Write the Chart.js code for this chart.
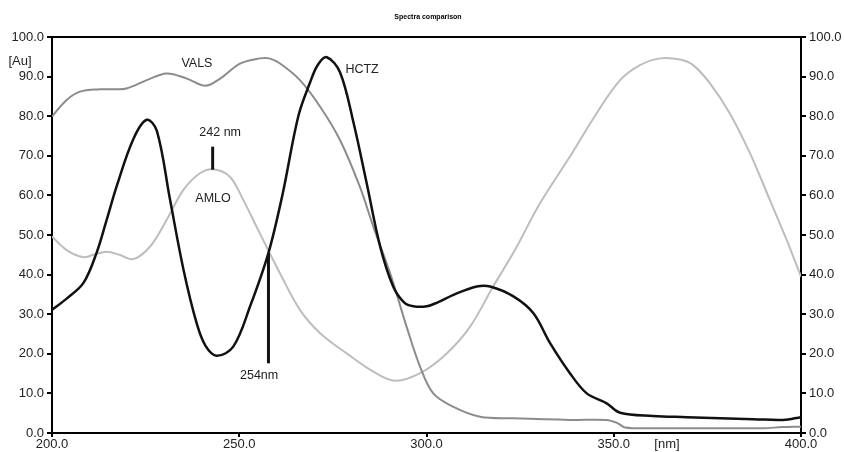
<!DOCTYPE html>
<html>
<head>
<meta charset="utf-8">
<script src="https://cdn.jsdelivr.net/npm/chart.js@4/dist/chart.umd.min.js"></script>
<style>
  body { margin: 0; background: #fff; }
  canvas { display: block; }
</style>
</head>
<body>
<canvas id="spectra" width="844" height="452"></canvas>
<script>
// Wavelength [nm] and absorbance [Au]
const hctzNm = [200, 204, 208.4, 211.9, 214.5, 217.3, 221.7, 225.3, 228, 231.5, 235.1, 238.6, 241, 244, 248.4, 252.9, 257.8, 261.5, 265.8, 268.9, 271, 273.4, 276.9, 280.5, 284, 287.6, 291.1, 294, 296.5, 300.1, 303, 307.2, 313.4, 317, 323.2, 328.5, 333, 338.3, 342.8, 348.1, 351.7, 360.5, 369.5, 378.4, 387.3, 395.2, 400];
const hctzAu = [31.1, 34, 37.9, 45.5, 53.5, 62.4, 74.2, 79.1, 76.3, 59, 41.3, 27.8, 22, 19.5, 21.8, 32, 45.5, 60, 80.1, 88.5, 93, 94.9, 91.1, 78.4, 63.2, 47.2, 37, 33, 32, 32, 33, 34.9, 37, 37, 34.5, 30.3, 22.7, 15.1, 10, 7.5, 5.1, 4.3, 4.0, 3.7, 3.5, 3.3, 4];

const valsNm = [200, 203.9, 207.5, 212.8, 216, 219.9, 225.3, 230.6, 236, 240.9, 244.9, 250.2, 255.5, 258, 260.9, 266.2, 271.6, 276.9, 282.2, 285.8, 290.3, 294.7, 298.3, 301.8, 307.2, 314.3, 323.2, 338.3, 348.1, 351, 353, 360.5, 378.4, 390, 395, 400];
const valsAu = [79.9, 84.1, 86.2, 86.8, 86.8, 87, 89.1, 90.8, 89.5, 87.7, 89.5, 93.3, 94.6, 94.6, 93.3, 89.1, 82.4, 74, 62.2, 52.1, 40.3, 26.8, 16.7, 10, 6.6, 4.1, 3.7, 3.3, 3.3, 2.5, 1.4, 1.2, 1.2, 1.2, 1.5, 1.6];

const amloNm = [200, 203.9, 208.4, 211, 214.6, 218, 221.7, 226.2, 230.6, 235.1, 239.5, 243.1, 247.5, 251.1, 255.5, 260.9, 266.2, 271.6, 278.7, 285.8, 291.6, 298.3, 305.4, 311.6, 317.8, 323.5, 330.3, 338.3, 345.4, 351.7, 357, 362.4, 367.7, 371.2, 375.7, 381, 386.4, 391.7, 396.2, 400];
const amloAu = [49.6, 46.2, 44.4, 45, 45.8, 45, 43.9, 47.1, 53.8, 61.4, 65.6, 66.6, 64.7, 58.8, 50.4, 40.3, 31.1, 25.2, 20.1, 15.5, 13.2, 15.1, 20.1, 26.8, 37, 46, 58, 69.8, 80.7, 89.1, 92.9, 94.6, 94.3, 92.9, 88.3, 80.7, 70.6, 58.8, 48.7, 39.5];

// Text labels placed in data coordinates (nm, Au)
const noteText = ['VALS', 'HCTZ', '242 nm', 'AMLO', '254nm'];
const noteNm = [238.7, 282.8, 244.9, 243, 255.3];
const noteAu = [93.4, 91.9, 75.8, 59.1, 14.4];

// Marker lines: wavelength, from, to
const markNm = [242.9, 257.8];
const markFrom = [72.3, 45.4];
const markTo = [66.5, 17.6];

const toPoints = (xs, ys) => xs.map((x, i) => ({ x: x, y: ys[i] }));

const tickFont = { family: 'Liberation Sans, Arial, sans-serif', size: 13 };

function yAxis(position, width) {
    return {
        type: 'linear',
        position: position,
        min: 0,
        max: 100,
        ticks: {
            stepSize: 10,
            color: '#222',
            font: tickFont,
            padding: 3,
            callback: v => v.toFixed(1)
        },
        grid: { drawOnChartArea: false, tickLength: 5, color: '#000', lineWidth: 2 },
        border: { color: '#000', width: 2 },
        afterFit: s => { s.width = width; }
    };
}

// Frame top, title, axis units and annotations
const extras = {
    id: 'extras',
    afterDraw(chart) {
        const ctx = chart.ctx;
        const area = chart.chartArea;
        const x = chart.scales.x;
        const y = chart.scales.y;
        ctx.save();
        ctx.strokeStyle = '#000';
        ctx.lineWidth = 2;
        ctx.beginPath();
        ctx.moveTo(area.left, area.top);
        ctx.lineTo(area.right, area.top);
        ctx.stroke();

        ctx.fillStyle = '#000';
        ctx.textAlign = 'center';
        ctx.textBaseline = 'middle';
        ctx.font = 'bold 7px Liberation Sans, Arial, sans-serif';
        ctx.fillText('Spectra comparison', 428, 17);

        ctx.fillStyle = '#222';
        ctx.font = '13px Liberation Sans, Arial, sans-serif';
        ctx.fillText('[Au]', 20, 61);
        ctx.fillText('[nm]', 667, 444);

        ctx.font = '12.5px Liberation Sans, Arial, sans-serif';
        noteText.forEach((t, i) => {
            ctx.fillText(t, x.getPixelForValue(noteNm[i]), y.getPixelForValue(noteAu[i]));
        });

        ctx.strokeStyle = '#111';
        ctx.lineWidth = 3;
        markNm.forEach((nm, i) => {
            const px = x.getPixelForValue(nm);
            ctx.beginPath();
            ctx.moveTo(px, y.getPixelForValue(markFrom[i]));
            ctx.lineTo(px, y.getPixelForValue(markTo[i]));
            ctx.stroke();
        });
        ctx.restore();
    }
};

new Chart(document.getElementById('spectra'), {
    type: 'line',
    data: {
        datasets: [
            { label: 'HCTZ', data: toPoints(hctzNm, hctzAu), borderColor: '#111', borderWidth: 2.5 },
            { label: 'VALS', data: toPoints(valsNm, valsAu), borderColor: '#8c8c8c', borderWidth: 2 },
            { label: 'AMLO', data: toPoints(amloNm, amloAu), borderColor: '#bdbdbd', borderWidth: 2 }
        ]
    },
    options: {
        responsive: false,
        animation: false,
        layout: { padding: { top: 37, left: 0, right: 0, bottom: 0 } },
        elements: {
            point: { radius: 0 },
            line: { tension: 0.35, fill: false }
        },
        plugins: {
            legend: { display: false },
            tooltip: { enabled: false }
        },
        scales: {
            x: {
                type: 'linear',
                min: 200,
                max: 400,
                ticks: {
                    stepSize: 50,
                    color: '#222',
                    font: tickFont,
                    padding: 0,
                    maxRotation: 0,
                    callback: v => v.toFixed(1)
                },
                grid: { drawOnChartArea: false, tickLength: 4, color: '#000', lineWidth: 2 },
                border: { color: '#000', width: 2 },
                afterFit: s => { s.height = 19; }
            },
            y: yAxis('left', 52),
            y2: yAxis('right', 43)
        }
    },
    plugins: [extras]
});
</script>
</body>
</html>
